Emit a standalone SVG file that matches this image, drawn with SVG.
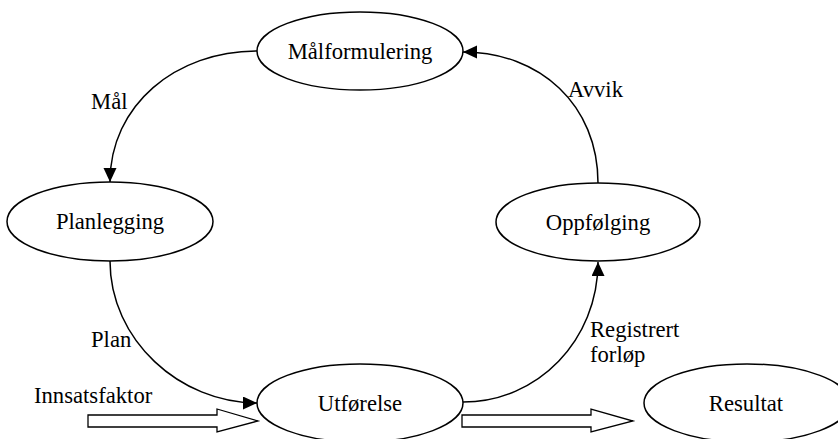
<svg xmlns="http://www.w3.org/2000/svg" width="838" height="439" viewBox="0 0 838 439">
  <style>
    .node { fill: #ffffff; stroke: #000000; stroke-width: 1.5; }
    .edge { fill: none; stroke: #000000; stroke-width: 1.5; }
    .flow { fill: #ffffff; stroke: #000000; stroke-width: 1.3; }
    text { font-family: "Liberation Serif", "Times New Roman", serif; font-size: 22.67px; fill: #000000; }
    .c { text-anchor: middle; }
  </style>
  <defs>
    <marker id="head" markerUnits="userSpaceOnUse" markerWidth="16" markerHeight="14" refX="14" refY="6.5" orient="auto">
      <path d="M0,0 L14,6.5 L0,13 Z" fill="#000000"/>
    </marker>
  </defs>

  <rect width="838" height="439" fill="#ffffff"/>

  <!-- connectors -->
  <g id="connectors">
    <path class="edge" d="M257,51 C176,51 110,105 110,182" marker-end="url(#head)"/>
    <path class="edge" d="M110,261 C110,340 180,403 257,403" marker-end="url(#head)"/>
    <path class="edge" d="M463,402 C538,402 598,340 598,262" marker-end="url(#head)"/>
    <path class="edge" d="M598,183 C598,105 540,52 463,52" marker-end="url(#head)"/>
    <text x="91" y="109">Mål</text>
    <text x="568" y="97">Avvik</text>
    <text x="91" y="347">Plan</text>
    <text x="590" y="337">Registrert</text>
    <text x="590" y="362">forløp</text>
  </g>

  <!-- input and output flows -->
  <g id="input-flow">
    <polygon class="flow" points="88,415 217,415 217,409 258,421 217,432 217,427 88,427"/>
    <text x="34" y="403">Innsatsfaktor</text>
  </g>
  <g id="output-flow">
    <polygon class="flow" points="462,415 591,415 591,409 633,421 591,432 591,427 462,427"/>
  </g>

  <!-- nodes -->
  <g id="malformulering">
    <ellipse class="node" cx="360" cy="51" rx="103" ry="39"/>
    <text class="c" x="360" y="59">Målformulering</text>
  </g>
  <g id="planlegging">
    <ellipse class="node" cx="110" cy="221.5" rx="103" ry="39.5"/>
    <text class="c" x="110" y="229">Planlegging</text>
  </g>
  <g id="oppfolging">
    <ellipse class="node" cx="598" cy="222" rx="102" ry="39"/>
    <text class="c" x="598" y="230">Oppfølging</text>
  </g>
  <g id="utforelse">
    <ellipse class="node" cx="360" cy="403" rx="103" ry="39"/>
    <text class="c" x="360" y="411">Utførelse</text>
  </g>
  <g id="resultat">
    <ellipse class="node" cx="747" cy="403" rx="103" ry="39"/>
    <text class="c" x="746" y="411">Resultat</text>
  </g>
</svg>
